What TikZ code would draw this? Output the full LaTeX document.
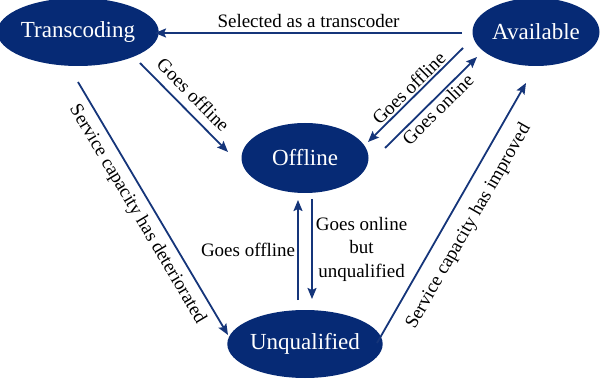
\documentclass[tikz,border=0pt]{standalone}
\usepackage{fontspec}
\setmainfont{Liberation Serif}
\usetikzlibrary{arrows.meta,calc,shapes.geometric}
\definecolor{statefill}{HTML}{062A75}
\definecolor{linkcol}{HTML}{15357A}
\tikzset{
  state/.style={ellipse, fill=statefill, text=white, inner sep=0pt,
    minimum width=127pt, minimum height=68pt,
    font=\fontsize{23}{27}\selectfont},
  link/.style={draw=linkcol, line width=1.8pt,
    -{Stealth[length=11pt,width=9pt,inset=2pt]}},
  lab/.style={inner sep=0pt, font=\fontsize{19}{23.5}\selectfont, text=black}
}
\begin{document}
\begin{tikzpicture}[x=1pt,y=-1pt]
\useasboundingbox (0,0) rectangle (616,382);

% states
\node[state] (T) at (78,32) {Transcoding};
\node[state] (A) at (536,32) {Available};
\node[state, minimum height=70pt] (O) at (305,158) {Offline};
\node[state] (U) at (305,344) {Unqualified};

% connector end points near the states
\coordinate (at1) at ($(A)+(-74,1)$);
\coordinate (ta1) at ($(T)+(77,1)$);
\coordinate (to1) at ($(T)+(62,31)$);
\coordinate (ot1) at ($(O)+(-77,-6)$);
\coordinate (ao1) at ($(A)+(-73,16)$);
\coordinate (oa1) at ($(O)+(63,-16)$);
\coordinate (oa2) at ($(O)+(80,-10)$);
\coordinate (ao2) at ($(A)+(-59,25)$);
\coordinate (tu1) at ($(T)+(0,50)$);
\coordinate (ut1) at ($(U)+(-77,-9)$);
\coordinate (ua1) at ($(U)+(72,-1)$);
\coordinate (au1) at ($(A)+(-10,51)$);
\coordinate (uo1) at ($(U)+(-7,-44)$);
\coordinate (ou1) at ($(O)+(-7,42)$);
\coordinate (ou2) at ($(O)+(7,41)$);
\coordinate (uo2) at ($(U)+(7,-45)$);

% transitions
\draw[link] (at1) -- node[lab, above=4pt] {Selected as a transcoder} (ta1);
\draw[link] (to1) -- node[lab, sloped, above=8pt, pos=0.48] {Goes offline} (ot1);
\draw[link] (ao1) -- node[lab, sloped, above=2pt, pos=0.5] {Goes offline} (oa1);
\draw[link] (oa2) -- node[lab, sloped, below=2pt, pos=0.5] {Goes online} (ao2);
\draw[link] (tu1) -- node[lab, sloped, below=7pt, pos=0.49] {Service capacity has deteriorated} (ut1);
\draw[link] (ua1) -- node[lab, sloped, below=12pt, pos=0.49] {Service capacity has improved} (au1);
\draw[link] (uo1) -- node[lab, left=2pt] {Goes offline} (ou1);
\draw[link] (ou2) -- node[lab, right=3pt, align=center] {Goes online\\but\\unqualified} (uo2);
\end{tikzpicture}
\end{document}
